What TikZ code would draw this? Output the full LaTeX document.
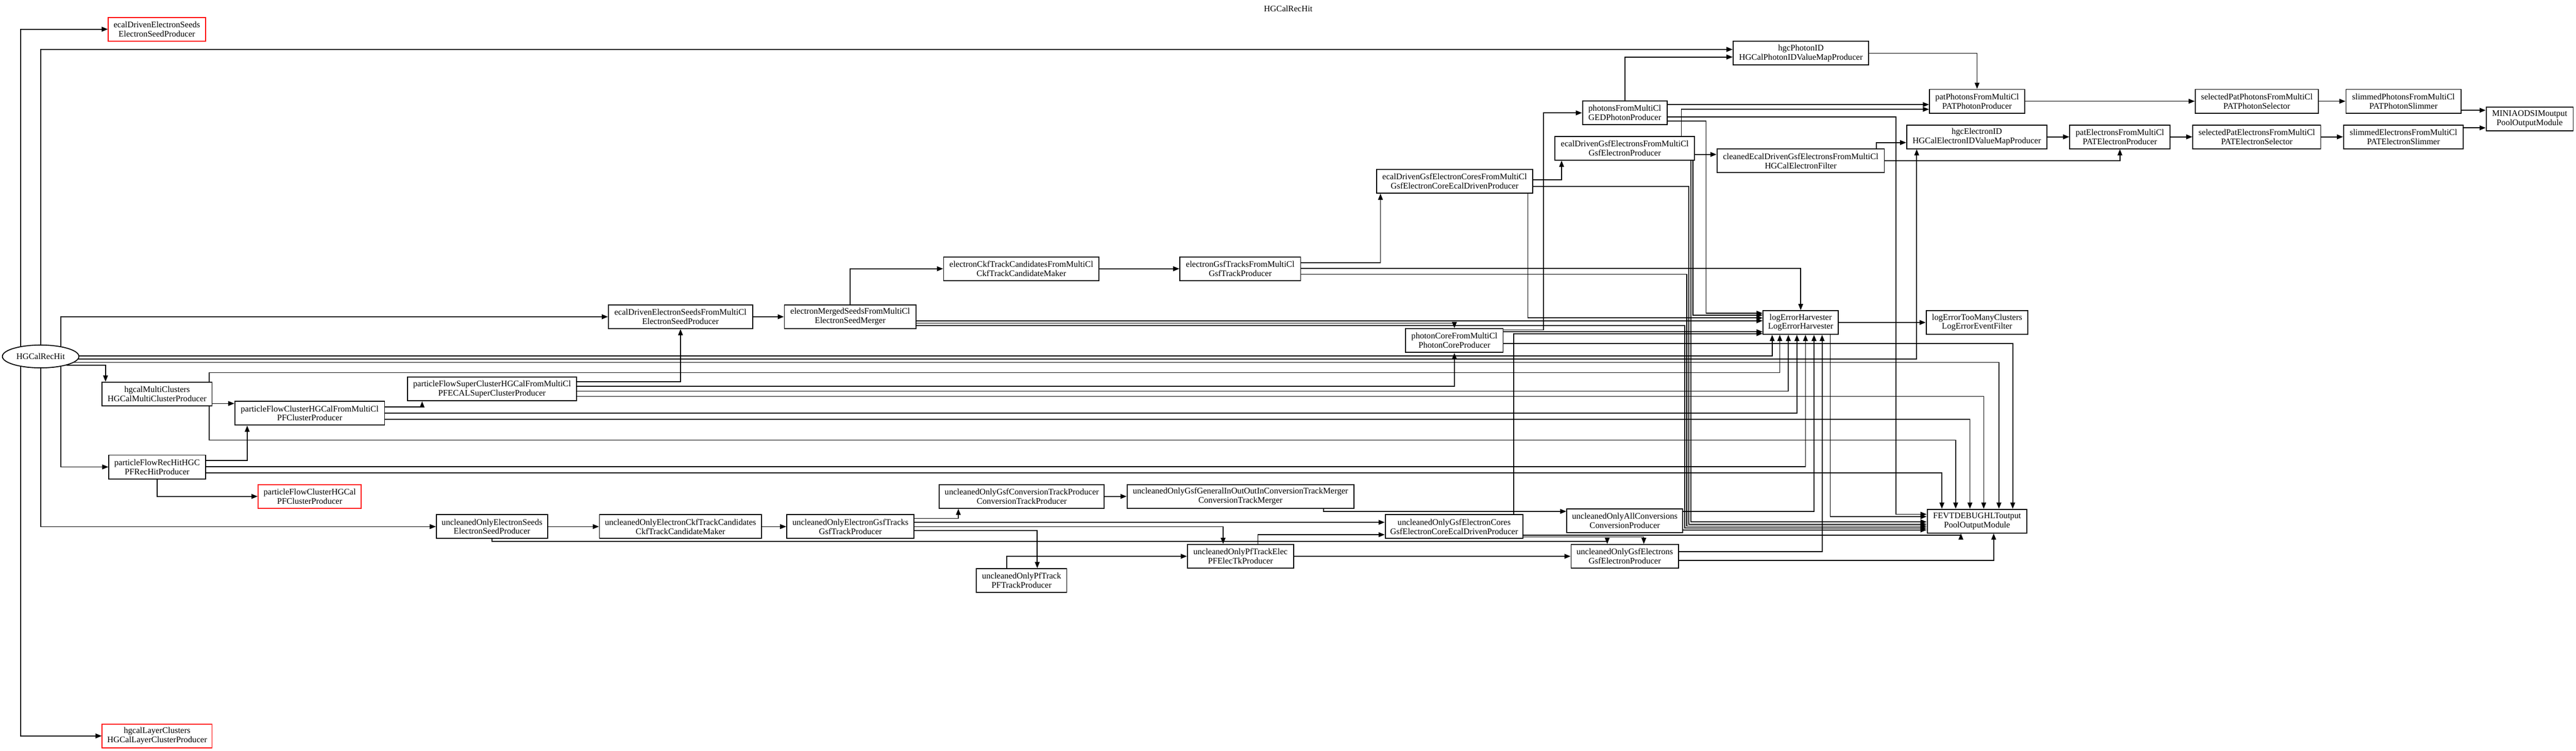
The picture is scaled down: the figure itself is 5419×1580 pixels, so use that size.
\documentclass[tikz,border=0pt]{standalone}
\usepackage{fontspec}
\setmainfont{Liberation Serif}
\usetikzlibrary{arrows.meta,shapes.geometric}
\begin{document}
\begin{tikzpicture}[x=0.5pt,y=-0.5pt]
\tikzset{
  mod/.style={draw, line width=1pt, rectangle, minimum height=25pt, inner sep=1pt, align=center, font=\fontsize{9}{9.7}\selectfont},
  redmod/.style={mod, draw=red},
  bw/.style={minimum width=#1*0.5pt},
  conn/.style={line width=0.9pt, -{Triangle[length=6.5pt,width=5pt]}},
}
\useasboundingbox (0,0) rectangle (5419,1580);
\node[font=\fontsize{9}{9.7}\selectfont] (title) at (2710,18) {HGCalRecHit};

% nodes
\node[draw, line width=1pt, ellipse, minimum width=80.5pt, minimum height=24pt, inner sep=0pt, font=\fontsize{9}{9.7}\selectfont] (rechit) at (85.5,750) {HGCalRecHit};
\node[redmod,bw=204] (edSeeds) at (330,61.5) {ecalDrivenElectronSeeds\\ElectronSeedProducer};
\node[mod,bw=231] (hgcalMC) at (330.5,829) {hgcalMultiClusters\\HGCalMultiClusterProducer};
\node[mod,bw=203] (pfRecHit) at (330.5,982.5) {particleFlowRecHitHGC\\PFRecHitProducer};
\node[redmod,bw=217] (pfClHGCal) at (651.5,1044.5) {particleFlowClusterHGCal\\PFClusterProducer};
\node[redmod,bw=231] (hgcalLC) at (330.5,1548.5) {hgcalLayerClusters\\HGCalLayerClusterProducer};
\node[mod,bw=315] (pfClMC) at (651.5,869.5) {particleFlowClusterHGCalFromMultiCl\\PFClusterProducer};
\node[mod,bw=356] (pfSC) at (1035,818.5) {particleFlowSuperClusterHGCalFromMultiCl\\PFECALSuperClusterProducer};
\node[mod,bw=303] (edSeedsMC) at (1431.5,666.5) {ecalDrivenElectronSeedsFromMultiCl\\ElectronSeedProducer};
\node[mod,bw=277] (mergedSeeds) at (1788.5,666.5) {electronMergedSeedsFromMultiCl\\ElectronSeedMerger};
\node[mod,bw=327] (ckfMC) at (2148.5,565.5) {electronCkfTrackCandidatesFromMultiCl\\CkfTrackCandidateMaker};
\node[mod,bw=254] (gsfTrkMC) at (2609,565.5) {electronGsfTracksFromMultiCl\\GsfTrackProducer};
\node[mod,bw=328] (coresMC) at (3060,381.5) {ecalDrivenGsfElectronCoresFromMultiCl\\GsfElectronCoreEcalDrivenProducer};
\node[mod,bw=294] (gsfEleMC) at (3418,312) {ecalDrivenGsfElectronsFromMultiCl\\GsfElectronProducer};
\node[mod,bw=178] (photonsMC) at (3418,237.5) {photonsFromMultiCl\\GEDPhotonProducer};
\node[mod,bw=205] (photonCore) at (3059.5,716.5) {photonCoreFromMultiCl\\PhotonCoreProducer};
\node[mod,bw=285] (hgcPhotonID) at (3788.5,112) {hgcPhotonID\\HGCalPhotonIDValueMapProducer};
\node[mod,bw=352] (cleanedEle) at (3788,338.5) {cleanedEcalDrivenGsfElectronsFromMultiCl\\HGCalElectronFilter};
\node[mod,bw=295] (hgcElectronID) at (4158.5,288) {hgcElectronID\\HGCalElectronIDValueMapProducer};
\node[mod,bw=200] (patPhotons) at (4159,213) {patPhotonsFromMultiCl\\PATPhotonProducer};
\node[mod,bw=259] (selPatPhotons) at (4747.5,213) {selectedPatPhotonsFromMultiCl\\PATPhotonSelector};
\node[mod,bw=242] (slimPhotons) at (5056,213) {slimmedPhotonsFromMultiCl\\PATPhotonSlimmer};
\node[mod,bw=211] (patEle) at (4459.5,288) {patElectronsFromMultiCl\\PATElectronProducer};
\node[mod,bw=269] (selPatEle) at (4747.5,288) {selectedPatElectronsFromMultiCl\\PATElectronSelector};
\node[mod,bw=252] (slimEle) at (5056,288) {slimmedElectronsFromMultiCl\\PATElectronSlimmer};
\node[mod,bw=183] (miniaod) at (5321.5,250.5) {MINIAODSIMoutput\\PoolOutputModule};
\node[mod,bw=158] (logErr) at (3788,678.5) {logErrorHarvester\\LogErrorHarvester};
\node[mod,bw=214] (logErrTMC) at (4159,678.5) {logErrorTooManyClusters\\LogErrorEventFilter};
\node[mod,bw=210] (fevt) at (4159,1096.5) {FEVTDEBUGHLToutput\\PoolOutputModule};
\node[mod,bw=234] (uSeeds) at (1035,1108) {uncleanedOnlyElectronSeeds\\ElectronSeedProducer};
\node[mod,bw=341] (uCkf) at (1431.5,1108) {uncleanedOnlyElectronCkfTrackCandidates\\CkfTrackCandidateMaker};
\node[mod,bw=268] (uGsfTrk) at (1789,1108) {uncleanedOnlyElectronGsfTracks\\GsfTrackProducer};
\node[mod,bw=347] (uConvTrk) at (2149.5,1044.5) {uncleanedOnlyGsfConversionTrackProducer\\ConversionTrackProducer};
\node[mod,bw=477] (uMerger) at (2609.5,1044.5) {uncleanedOnlyGsfGeneralInOutOutInConversionTrackMerger\\ConversionTrackMerger};
\node[mod,bw=190] (uPfTrack) at (2149,1221.5) {uncleanedOnlyPfTrack\\PFTrackProducer};
\node[mod,bw=223] (uPfTrackElec) at (2609.5,1170.5) {uncleanedOnlyPfTrackElec\\PFElecTkProducer};
\node[mod,bw=290] (uCores) at (3059,1108) {uncleanedOnlyGsfElectronCores\\GsfElectronCoreEcalDrivenProducer};
\node[mod,bw=244] (uAllConv) at (3418,1095.5) {uncleanedOnlyAllConversions\\ConversionProducer};
\node[mod,bw=226] (uGsfEle) at (3418,1170.5) {uncleanedOnlyGsfElectrons\\GsfElectronProducer};

% edges from HGCalRecHit
\draw[conn] (rechit.153) |- (edSeeds.west);
\draw[conn] (rechit.207) |- (hgcalLC.west);
\draw[conn] (rechit.north) |- (hgcPhotonID.west |- 0,104);
\draw[conn] (rechit.south) |- (uSeeds.west);
\draw[conn] (rechit.27) |- (edSeedsMC.west);
\draw[conn] (rechit.-27) |- (pfRecHit.west);
\draw[conn] (rechit.-19) -| (hgcalMC.north -| 222,0);
\draw[conn] (rechit.1) -| (logErr.south -| 3728,0);
\draw[conn] (rechit.-4) -| (hgcElectronID.south -| 4032,0);
\draw[conn] (rechit.-10) -| (fevt.north -| 4205,0);

% hgcalMultiClusters
\draw[conn] (hgcalMC.east |- 0,849) -- (pfClMC.west |- 0,849);
\draw[conn] (hgcalMC.north -| 440,0) -- (440,784) -| (logErr.south -| 3744,0);
\draw[conn] (hgcalMC.south -| 440,0) -- (440,926) -| (fevt.north -| 4114,0);

% particleFlowRecHitHGC
\draw[conn] (pfRecHit.east |- 0,969) -| (pfClMC.south -| 520,0);
\draw[conn] (pfRecHit.east |- 0,982) -| (logErr.south -| 3798,0);
\draw[conn] (pfRecHit.east |- 0,995) -| (fevt.north -| 4085,0);
\draw[conn] (pfRecHit.south) |- (pfClHGCal.west);

% particleFlowClusterHGCalFromMultiCl
\draw[conn] (pfClMC.east |- 0,856) -| (pfSC.south -| 888,0);
\draw[conn] (pfClMC.east |- 0,869) -| (logErr.south -| 3780,0);
\draw[conn] (pfClMC.east |- 0,882) -| (fevt.north -| 4144,0);

% particleFlowSuperClusterHGCalFromMultiCl
\draw[conn] (pfSC.east |- 0,803) -| (edSeedsMC.south);
\draw[conn] (pfSC.east |- 0,813) -| (photonCore.south);
\draw[conn] (pfSC.east |- 0,823) -| (logErr.south -| 3762,0);
\draw[conn] (pfSC.east |- 0,834) -| (fevt.north -| 4173,0);

% seeds and tracks
\draw[conn] (edSeedsMC.east) -- (mergedSeeds.west);
\draw[conn] (mergedSeeds.north) |- (ckfMC.west);
\draw[conn] (mergedSeeds.east |- 0,675) -- (logErr.west |- 0,675);
\draw[conn] (mergedSeeds.east |- 0,680) -| (photonCore.north);
\draw[conn] (mergedSeeds.east |- 0,685) -- (3544,685) |- (fevt.west |- 0,1111);
\draw[conn] (ckfMC.east) -- (gsfTrkMC.west);
\draw[conn] (gsfTrkMC.east |- 0,553) -| (coresMC.south -| 2904,0);
\draw[conn] (gsfTrkMC.east |- 0,565) -| (logErr.north);
\draw[conn] (gsfTrkMC.east |- 0,577) -- (3548,577) |- (fevt.west |- 0,1107);

% electron cores and electrons
\draw[conn] (coresMC.east |- 0,378) -| (gsfEleMC.south -| 3285,0);
\draw[conn] (coresMC.east |- 0,392) -- (3553,392) |- (fevt.west |- 0,1103);
\draw[conn] (coresMC.south -| 3214,0) |- (logErr.west |- 0,669);
\draw[conn] (gsfEleMC.east |- 0,325) -- (cleanedEle.west |- 0,325);
\draw[conn] (gsfEleMC.north -| 3537,0) |- (patPhotons.west |- 0,230);
\draw[conn] (gsfEleMC.south -| 3561,0) |- (logErr.west |- 0,663);
\draw[conn] (gsfEleMC.south -| 3557,0) |- (fevt.west |- 0,1098);

% photons
\draw[conn] (photonsMC.north) |- (hgcPhotonID.west |- 0,120);
\draw[conn] (photonsMC.east |- 0,220) -- (patPhotons.west |- 0,220);
\draw[conn] (photonsMC.east |- 0,246) -- (3988,246) |- (fevt.west |- 0,1082);
\draw[conn] (photonsMC.east |- 0,255) -- (3589,255) |- (logErr.west |- 0,659);
\draw[conn] (photonCore.east |- 0,694) -- (3247,694) |- (photonsMC.west);
\draw[conn] (photonCore.east |- 0,698) -- (logErr.west |- 0,698);
\draw[conn] (photonCore.east |- 0,723) -| (fevt.north -| 4234,0);
\draw[conn] (hgcPhotonID.east) -| (patPhotons.north);

% electron ID and PAT
\draw[conn] (cleanedEle.north -| 3947,0) |- (hgcElectronID.west |- 0,300);
\draw[conn] (cleanedEle.east |- 0,338) -| (patEle.south);
\draw[conn] (hgcElectronID.east) -- (patEle.west);
\draw[conn] (patPhotons.east) -- (selPatPhotons.west);
\draw[conn] (selPatPhotons.east) -- (slimPhotons.west);
\draw[conn] (patEle.east) -- (selPatEle.west);
\draw[conn] (selPatEle.east) -- (slimEle.west);
\draw[conn] (slimPhotons.east |- 0,232) -- (miniaod.west |- 0,232);
\draw[conn] (slimEle.east |- 0,269) -- (miniaod.west |- 0,269);

% log error
\draw[conn] (logErr.east) -- (logErrTMC.west);
\draw[conn] (logErr.south -| 3850,0) |- (fevt.west |- 0,1087);

% uncleaned chain
\draw[conn] (uSeeds.east) -- (uCkf.west);
\draw[conn] (uSeeds.south) -- (1035,1139) -| (uGsfEle.north -| 3381,0);
\draw[conn] (uCkf.east) -- (uGsfTrk.west);
\draw[conn] (uGsfTrk.east |- 0,1091) -| (uConvTrk.south -| 2016,0);
\draw[conn] (uGsfTrk.east |- 0,1099) -- (uCores.west |- 0,1099);
\draw[conn] (uGsfTrk.east |- 0,1108) -| (uPfTrackElec.north -| 2573,0);
\draw[conn] (uGsfTrk.east |- 0,1116) -| (uPfTrack.north -| 2182,0);
\draw[conn] (uConvTrk.east) -- (uMerger.west);
\draw[conn] (uMerger.south -| 2784,0) |- (uAllConv.west |- 0,1076);
\draw[conn] (uPfTrack.north -| 2118,0) |- (uPfTrackElec.west);
\draw[conn] (uPfTrackElec.north -| 2646,0) |- (uCores.west |- 0,1125);
\draw[conn] (uPfTrackElec.east) -- (uGsfEle.west);
\draw[conn] (uCores.north -| 3184,0) |- (logErr.west |- 0,702);
\draw[conn] (uCores.east |- 0,1126) -| (fevt.south -| 4125,0);
\draw[conn] (uCores.east |- 0,1130) -| (uGsfEle.north -| 3458,0);
\draw[conn] (uAllConv.east |- 0,1076) -| (logErr.south -| 3816,0);
\draw[conn] (uAllConv.east |- 0,1115) -- (fevt.west |- 0,1115);
\draw[conn] (uGsfEle.east |- 0,1161) -| (logErr.south -| 3833,0);
\draw[conn] (uGsfEle.east |- 0,1179) -| (fevt.south -| 4194,0);
\end{tikzpicture}
\end{document}
